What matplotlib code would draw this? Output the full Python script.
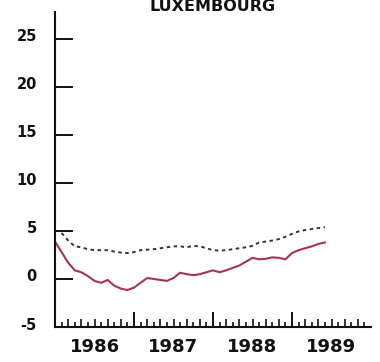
import matplotlib
matplotlib.use("Agg")
import matplotlib.pyplot as plt
from matplotlib.transforms import ScaledTranslation

# ---- data (monthly, month 0 = Jan 1986) ----
title = "LUXEMBOURG"
solid_months = list(range(0, 42))
solid_values = [3.9, 2.8, 1.7, 0.9, 0.7, 0.3, -0.2, -0.4, -0.1, -0.7,
                -1.0, -1.15, -0.9, -0.4, 0.1, 0.0, -0.1, -0.2, 0.1, 0.65,
                0.5, 0.4, 0.5, 0.7, 0.9, 0.7, 0.9, 1.15, 1.4, 1.8,
                2.2, 2.05, 2.1, 2.25, 2.2, 2.05, 2.7, 3.0, 3.2, 3.4,
                3.65, 3.8]
dashed_months = list(range(1, 42))
dashed_values = [4.8, 4.0, 3.4, 3.3, 3.1, 3.0, 3.0, 3.0, 2.85, 2.75,
                 2.7, 2.8, 3.0, 3.05, 3.1, 3.2, 3.3, 3.4, 3.4, 3.3,
                 3.45, 3.4, 3.2, 3.0, 2.95, 3.0, 3.1, 3.2, 3.3, 3.45,
                 3.8, 3.9, 4.0, 4.15, 4.4, 4.7, 4.95, 5.1, 5.2, 5.3, 5.4]
year_labels = ["1986", "1987", "1988", "1989"]
year_label_pos = [6, 18, 30, 42]
year_ticks = [12, 24, 36]
y_ticks = [0, 5, 10, 15, 20, 25]
y_tick_labels = ["-5", "0", "5", "10", "15", "20", "25"]

fig = plt.figure(figsize=(3.8, 3.62), dpi=100)
fig.patch.set_facecolor("white")
ax = fig.add_axes([55/380, 35/362, 316/380, 315/362])
ax.set_facecolor("white")

ax.plot(solid_months, solid_values, color="#a8344f", lw=1.5, solid_joinstyle="round")
ax.plot(dashed_months, dashed_values, color="#333333", lw=1.4, linestyle=(0, (1.8, 1.8)))

ax.set_xlim(0, 48)
ax.set_ylim(-5, 27.8)

for s in ["top", "right"]:
    ax.spines[s].set_visible(False)
for s in ["left", "bottom"]:
    ax.spines[s].set_linewidth(1.5)
    ax.spines[s].set_color("#111111")

# y ticks
ax.set_yticks([-5] + y_ticks)
ax.set_yticklabels(y_tick_labels, fontsize=10.5, fontweight="bold", color="#111111")
ax.tick_params(axis="y", direction="in", length=13, width=1.4, pad=13, color="#111111")
ax.yaxis.get_major_ticks()[0].tick1line.set_visible(False)
off = ScaledTranslation(0, 3.5/100, fig.dpi_scale_trans)
for lab in ax.get_yticklabels():
    lab.set_transform(lab.get_transform() + off)

# x ticks: year boundaries (major), odd months (minor, short)
ax.set_xticks(year_ticks)
ax.set_xticklabels([])
ax.set_xticks([m for m in range(1, 48) if m % 2 == 1], minor=True)
ax.tick_params(axis="x", which="major", direction="in", length=11, width=1.4, color="#111111")
ax.tick_params(axis="x", which="minor", direction="in", length=3.5, width=1.2, color="#111111")

# even-month ticks (taller)
sec = ax.secondary_xaxis("bottom")
sec.spines["bottom"].set_visible(False)
sec.set_xticks([m for m in range(2, 48, 2) if m not in year_ticks])
sec.set_xticklabels([])
sec.tick_params(axis="x", direction="in", length=6, width=1.2, color="#111111")

# year labels
lab_ax = ax.secondary_xaxis("bottom")
lab_ax.spines["bottom"].set_visible(False)
lab_ax.set_xticks(year_label_pos)
lab_ax.set_xticklabels(year_labels, fontsize=13, fontweight="bold", color="#111111")
lab_ax.tick_params(axis="x", length=0, pad=8)

fig.text(213/380, 1 - 11/362, title, ha="center", va="baseline",
         fontsize=11.5, fontweight="bold", color="#111111")

fig.savefig("out.png", dpi=100)
